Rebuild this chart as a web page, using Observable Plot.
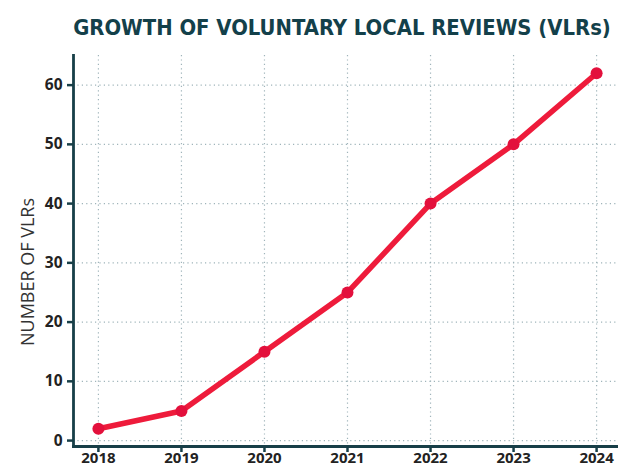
<!DOCTYPE html>
<html>
<head>
<meta charset="utf-8">
<script src="https://cdn.jsdelivr.net/npm/d3@7"></script>
<script src="https://cdn.jsdelivr.net/npm/@observablehq/plot@0.6"></script>
<style>
  html, body { margin: 0; padding: 0; background: #fff; overflow: hidden; }
  #wrap { width: 618px; height: 467px; position: relative; }
  #title { display: block; }
  #chart svg { display: block; overflow: visible; }
</style>
</head>
<body>
<div id="wrap">
  <svg id="title" width="618" height="45">
    <text id="titleText" x="342" y="35" text-anchor="middle"
      font-family="'DejaVu Sans Condensed', 'DejaVu Sans', sans-serif" font-weight="bold" font-size="26" fill="#13404a">GROWTH OF VOLUNTARY LOCAL REVIEWS (VLRs)</text>
  </svg>
  <div id="chart"></div>
</div>
<script>
const years = [2018, 2019, 2020, 2021, 2022, 2023, 2024];
const vlrs = [2, 5, 15, 25, 40, 50, 62];
const yTicks = [0, 10, 20, 30, 40, 50, 60];
const yLabel = "NUMBER OF VLRs";

const data = years.map((y, i) => ({year: y, n: vlrs[i]}));
const axisColor = "#173f48";
const gridColor = "#9fb4ba";
const font = "'Open Sans', sans-serif";

// fit the title into ~540px width by font size
const tt = document.getElementById("titleText");
const w0 = tt.getComputedTextLength();
if (w0 > 0) tt.setAttribute("font-size", (26 * 538 / w0).toFixed(2));

const chart = Plot.plot({
  width: 618,
  height: 422,
  marginTop: 10,
  marginBottom: 21,
  marginLeft: 73,
  marginRight: -3,
  style: {fontFamily: font, background: "transparent"},
  x: {domain: [2017.7, 2024.3]},
  y: {domain: [-1, 65]},
  marks: [
    Plot.gridX(years, {stroke: gridColor, strokeOpacity: 1, strokeWidth: 1.2, strokeDasharray: "1.2,3.2"}),
    Plot.gridY(yTicks, {stroke: gridColor, strokeOpacity: 1, strokeWidth: 1.2, strokeDasharray: "1.2,3.2"}),
    Plot.axisX(years, {tickSize: 6, tickPadding: 0, stroke: axisColor, strokeWidth: 2.5, fill: "#222", fontWeight: "bold", tickFormat: d => String(d), label: null}),
    Plot.axisY(yTicks, {tickSize: 6, tickPadding: 5, stroke: axisColor, strokeWidth: 2.5, fill: "#222", fontWeight: "bold", label: yLabel, labelAnchor: "center", labelArrow: "none", labelOffset: 52}),
    Plot.frame({anchor: "left", stroke: axisColor, strokeWidth: 2.8}),
    Plot.frame({anchor: "bottom", stroke: axisColor, strokeWidth: 2.8}),
    Plot.line(data, {x: "year", y: "n", stroke: "#ee1b3b", strokeWidth: 5.5}),
    Plot.dot(data, {x: "year", y: "n", r: 6, fill: "#e3103c", stroke: "none"})
  ]
});
document.getElementById("chart").appendChild(chart);

const root = d3.select(chart);
root.selectAll("g[aria-label='y-axis tick label'] text")
  .style("font-size", "15.5px")
  .style("font-weight", "bold")
  .style("fill", "#222");
root.selectAll("g[aria-label='x-axis tick label'] text")
  .style("font-size", "15px")
  .style("font-weight", "bold")
  .style("fill", "#222");

// style the y-axis label
const lab = root.selectAll("g[aria-label='y-axis label']");
lab.selectAll("text")
  .style("font-weight", "normal")
  .style("font-size", "18px")
  .style("fill", "#333");
lab.attr("transform", function() { return (this.getAttribute("transform") || "") + " translate(0,21)"; });
</script>
</body>
</html>
